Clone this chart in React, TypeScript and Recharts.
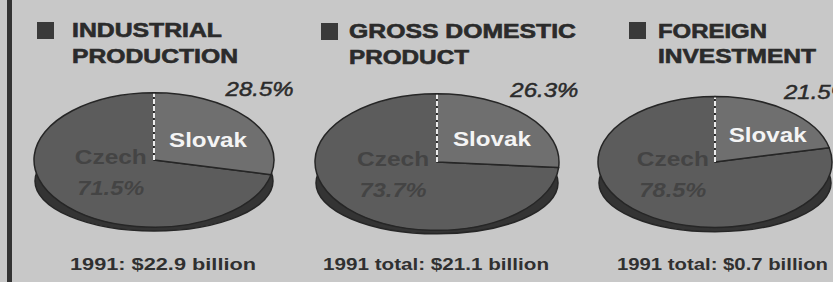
import React from 'react';
import { PieChart, Pie, Cell } from 'recharts';

const REGIONS = ['Czech', 'Slovak'];
const TITLES = [
  ['INDUSTRIAL', 'PRODUCTION'],
  ['GROSS DOMESTIC', 'PRODUCT'],
  ['FOREIGN', 'INVESTMENT'],
];
const CZECH_SHARE = [71.5, 73.7, 78.5];
const SLOVAK_SHARE = [28.5, 26.3, 21.5];
const TOTALS = ['1991: $22.9 billion', '1991 total: $21.1 billion', '1991 total: $0.7 billion'];

// where each panel sits
const PANELS = [
  { cx: 154, cy: 160, r: 120, sqX: 37, sqY: 22, tx: 72, base: [37, 63], tw: [150, 166], totX: 70, totW: 186 },
  { cx: 437, cy: 162, r: 122, sqX: 321, sqY: 23, tx: 349, base: [38, 64], tw: [227, 120], totX: 323, totW: 226 },
  { cx: 715, cy: 162, r: 117, sqX: 629, sqY: 22, tx: 658, base: [38, 63], tw: [109, 158], totX: 617, totW: 211 },
];

const W = 833;
const H = 282;
const FONT = '"Liberation Sans", Arial, Helvetica, sans-serif';
const BG = '#c8c8c8';
const INK = '#2b2b2b';
const COLORS: Record<string, string> = { Czech: '#5c5c5c', Slovak: '#6f6f6f' };
const FLAT = 0.56;
const SHADOW_FLAT = 0.42;
const SHADOW_DROP = 21;
const RAD = Math.PI / 180;

// pie sector squashed into an ellipse (tilted pie)
const ellipseSector = (flat: number) => (props: any) => {
  const { cx, cy, outerRadius, startAngle, endAngle, fill } = props;
  const rx = outerRadius;
  const ry = outerRadius * flat;
  const sweep = Math.abs(endAngle - startAngle);
  if (sweep >= 359.9) {
    return <ellipse cx={cx} cy={cy} rx={rx} ry={ry} fill={fill} stroke="#262626" strokeWidth={1.5} />;
  }
  const pt = (a: number) => [cx + rx * Math.cos(a * RAD), cy - ry * Math.sin(a * RAD)];
  const [x1, y1] = pt(startAngle);
  const [x2, y2] = pt(endAngle);
  const large = sweep > 180 ? 1 : 0;
  const dir = endAngle < startAngle ? 1 : 0;
  const d = `M${cx},${cy}L${x1},${y1}A${rx},${ry} 0 ${large} ${dir} ${x2},${y2}Z`;
  const name = props.name ?? props.payload?.name;
  return (
    <g>
      <path d={d} fill={fill} stroke="#262626" strokeWidth={1.5} strokeLinejoin="round" />
      {name === 'Slovak' && (
        <line x1={cx} y1={cy} x2={x2} y2={y2 + 1} stroke="#ececec" strokeWidth={2} strokeDasharray="5 2" />
      )}
    </g>
  );
};

const renderLabel = (props: any) => {
  const { cx, cy, outerRadius, midAngle, percent } = props;
  const name = props.name ?? props.payload?.name;
  const value = props.value ?? props.payload?.value;
  const rx = outerRadius;
  const ry = outerRadius * FLAT;
  if (name === 'Slovak') {
    const low = (midAngle - percent * 180) * RAD;
    const x = cx + 0.45 * rx;
    const top = cy - ry * Math.sqrt(1 - 0.45 * 0.45);
    const bottom = cy - 0.45 * ry * Math.tan(low);
    const y = 0.45 * top + 0.55 * bottom;
    return (
      <g style={{ fontFamily: FONT }}>
        <text x={x} y={y + 10} textAnchor="middle" fill="#f4f4f4" fontSize={21} fontWeight="bold"
          textLength={78} lengthAdjust="spacingAndGlyphs">
          {name}
        </text>
        <text x={cx + rx * 0.88} y={cy - ry + 3} textAnchor="middle" fill={INK} stroke={INK} strokeWidth={0.5}
          fontSize={21} fontStyle="italic" textLength={68} lengthAdjust="spacingAndGlyphs">
          {`${value}%`}
        </text>
      </g>
    );
  }
  const x = cx - rx * 0.36;
  return (
    <g style={{ fontFamily: FONT }} fill="#444444">
      <text x={x} y={cy + 4} textAnchor="middle" fontSize={21} fontWeight="bold"
        textLength={72} lengthAdjust="spacingAndGlyphs">
        {name}
      </text>
      <text x={x} y={cy + 35} textAnchor="middle" fontSize={21} fontWeight="bold" fontStyle="italic"
        textLength={67} lengthAdjust="spacingAndGlyphs">
        {`${value}%`}
      </text>
    </g>
  );
};

export default function App() {
  return (
    <div style={{ position: 'fixed', left: 0, top: 0, width: W, height: H, background: BG, overflow: 'hidden' }}>
      <PieChart width={W} height={H} margin={{ top: 0, right: 0, bottom: 0, left: 0 }}>
        {PANELS.map((p, i) => (
          <Pie
            key={`base-${i}`}
            data={[{ name: 'Base', value: CZECH_SHARE[i] + SLOVAK_SHARE[i] }]}
            dataKey="value"
            cx={p.cx}
            cy={p.cy + SHADOW_DROP}
            outerRadius={p.r - 1}
            startAngle={90}
            endAngle={450}
            fill="#343434"
            stroke="none"
            shape={ellipseSector(SHADOW_FLAT)}
            inactiveShape={ellipseSector(SHADOW_FLAT)}
            activeShape={ellipseSector(SHADOW_FLAT)}
            isAnimationActive={false}
          />
        ))}
        {PANELS.map((p, i) => {
          const data = REGIONS.map((name) => ({
            name,
            value: name === 'Czech' ? CZECH_SHARE[i] : SLOVAK_SHARE[i],
          }));
          return (
            <Pie
              key={`pie-${i}`}
              data={data}
              dataKey="value"
              nameKey="name"
              cx={p.cx}
              cy={p.cy}
              outerRadius={p.r}
              startAngle={90}
              endAngle={450}
              stroke="none"
              shape={ellipseSector(FLAT)}
              inactiveShape={ellipseSector(FLAT)}
              activeShape={ellipseSector(FLAT)}
              label={renderLabel}
              labelLine={false}
              isAnimationActive={false}
            >
              {data.map((d) => (
                <Cell key={d.name} fill={COLORS[d.name]} />
              ))}
            </Pie>
          );
        })}
      </PieChart>
      <svg width={W} height={H} style={{ position: 'absolute', left: 0, top: 0, pointerEvents: 'none', fontFamily: FONT }}>
        <rect x={7} y={0} width={5} height={H} fill="#333" />
        {PANELS.map((p, i) => (
          <g key={i} fill={INK}>
            <rect x={p.sqX} y={p.sqY} width={17} height={17} fill="#3a3a3a" />
            {TITLES[i].map((line, j) => (
              <text key={j} x={p.tx} y={p.base[j]} fontSize={19.5} fontWeight="bold" stroke={INK} strokeWidth={0.6}
                textLength={p.tw[j]} lengthAdjust="spacingAndGlyphs">
                {line}
              </text>
            ))}
            <text x={p.totX} y={270} fontSize={17} fontWeight="bold" fill="#303030"
              textLength={p.totW} lengthAdjust="spacingAndGlyphs">
              {TOTALS[i]}
            </text>
          </g>
        ))}
      </svg>
    </div>
  );
}
